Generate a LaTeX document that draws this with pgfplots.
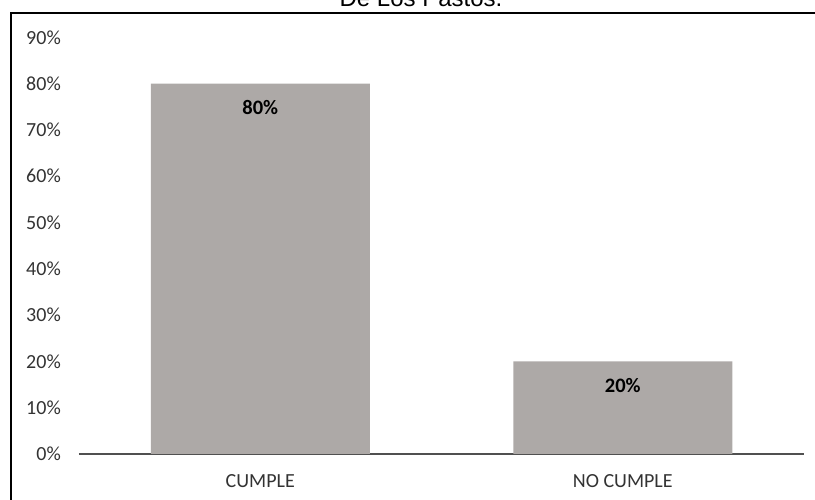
\documentclass[border=0pt]{standalone}
\usepackage{pgfplots}
\pgfplotsset{compat=1.18}
\usepackage{fontspec}
\setmainfont{Carlito}
\newfontfamily\titlefont{Liberation Sans}
\definecolor{bargray}{RGB}{173,169,167}
\definecolor{axisgray}{RGB}{80,80,80}
\begin{document}
\begin{tikzpicture}[x=1pt,y=1pt]
\useasboundingbox (0,0) rectangle (815,500);
\clip (0,0) rectangle (815,500);
% chart frame, partly outside the visible area
\draw[line width=2.5pt, black] (11,-20) -- (11,487) -- (840,487);
% title line, its upper part lies above the page
\node[anchor=base, inner sep=0pt, font=\titlefont\fontsize{24}{28}\selectfont] at (421,493) {De Los Pastos.};
\begin{axis}[
  at={(79pt,46pt)}, anchor=south west,
  scale only axis, width=725pt, height=416.7pt,
  xmin=-0.5, xmax=1.5, ymin=0, ymax=90,
  axis x line*=bottom, axis y line*=left,
  x axis line style={draw=axisgray, line width=2pt, -},
  y axis line style={draw=none},
  major tick length=0pt,
  xtick={0,1}, xticklabels={CUMPLE, NO CUMPLE},
  ytick={0,10,...,90},
  yticklabel={\pgfmathprintnumber{\tick}\%},
  /pgf/number format/assume math mode=true,
  ticklabel style={font=\fontsize{20}{24}\selectfont, text=black!80, inner sep=0pt},
  yticklabel style={anchor=east, xshift=-18pt},
  xticklabel style={anchor=center, yshift=-26.7pt},
  ymajorgrids=false,
  clip=false,
]
\addplot[ybar, bar width=219pt, fill=bargray, draw=none,
  nodes near coords={\pgfmathprintnumber{\pgfplotspointmeta}\%},
  nodes near coords style={anchor=center, yshift=-24pt, inner sep=0pt,
    font=\bfseries\fontsize{20.5}{24}\selectfont, text=black},
  /pgf/number format/assume math mode=true]
  coordinates {(0,80) (1,20)};
\end{axis}
\end{tikzpicture}
\end{document}
